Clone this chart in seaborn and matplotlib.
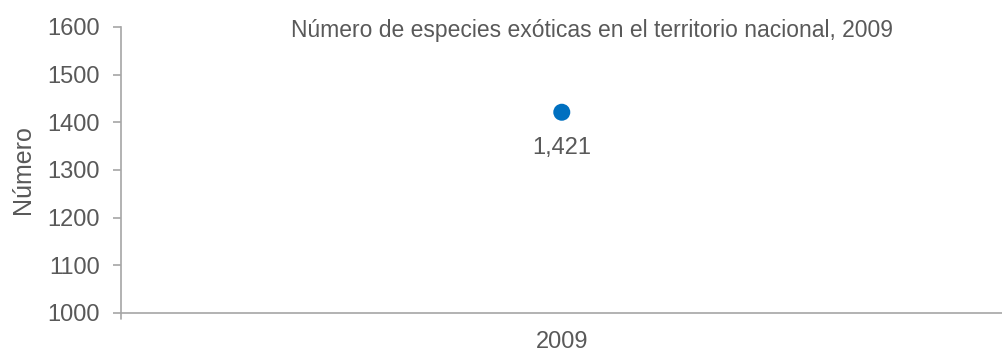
import matplotlib
matplotlib.use("Agg")
import matplotlib.pyplot as plt
import seaborn as sns
import pandas as pd

years = ["2009"]
values = [1421]
value_labels = ["1,421"]
yticks = [1000, 1100, 1200, 1300, 1400, 1500, 1600]
title = "Número de especies exóticas en el territorio nacional, 2009"
ylabel = "Número"

sns.set_theme(style="white")
plt.rcParams['font.family'] = ['Liberation Sans', 'DejaVu Sans']

TXT = "#595959"
SP = "#a6a6a6"

df = pd.DataFrame({"year": years, "value": values})

fig = plt.figure(figsize=(10.03, 3.54), dpi=100)
ax = fig.add_axes([0.1206, 0.116, 0.879, 0.808])
sns.scatterplot(data=df, x="year", y="value", ax=ax, s=150, color="#0070c0",
                edgecolor="none", zorder=3)
ax.set_xlim(-0.5, 0.5)
ax.set_ylim(1000, 1600)
ax.set_yticks(yticks)
ax.set_yticklabels([str(t) for t in yticks], fontsize=17, color=TXT)
ax.set_xticks([0])
ax.set_xticklabels(years, fontsize=17, color=TXT)
ax.set_xlabel("")
ax.set_ylabel(ylabel, fontsize=18, color=TXT, labelpad=9)
for s in ["top", "right"]:
    ax.spines[s].set_visible(False)
for s in ["left", "bottom"]:
    ax.spines[s].set_color(SP)
    ax.spines[s].set_linewidth(1.2)
ax.tick_params(axis="y", length=6, width=1.2, color=SP, pad=9, left=True)
ax.tick_params(axis="x", length=0, pad=13)
# category boundary tick at left edge
ax.plot([-0.5, -0.5], [0, -0.022], transform=ax.get_xaxis_transform(), color=SP,
        lw=1.2, clip_on=False)

for x, v, lab in zip(years, values, value_labels):
    ax.annotate(lab, (0, v), xytext=(0, -17.5), textcoords="offset points",
                ha="center", va="top", fontsize=17, color=TXT)

fig.text(0.59, 0.915, title, ha="center", va="center", fontsize=16.5, color=TXT)

fig.savefig("out.png", dpi=100, facecolor="white")
